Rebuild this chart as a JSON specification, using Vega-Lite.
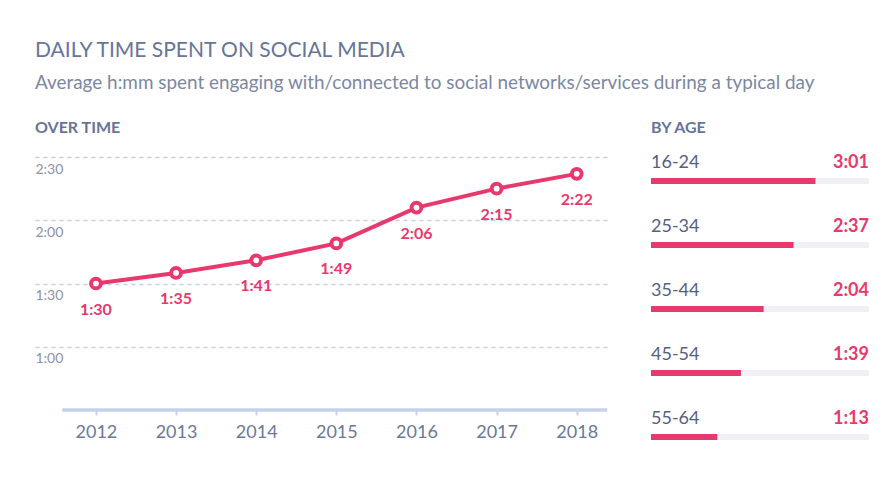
{
 "$schema": "https://vega.github.io/schema/vega-lite/v6.json",
 "padding": {"left": 35, "top": 40, "right": 20, "bottom": 0},
 "background": "white",
 "config": {"font": "Lato", "view": {"stroke": null}, "concat": {"spacing": 42}},
 "title": {"text": "DAILY TIME SPENT ON SOCIAL MEDIA", "subtitle": "Average h:mm spent engaging with/connected to social networks/services during a typical day", "anchor": "start", "fontSize": 21, "fontWeight": "normal", "color": "#667599", "subtitleFontSize": 18.9, "subtitleColor": "#7b87a3", "subtitlePadding": 13, "offset": 27},
 "datasets": {
  "overTime": [
   {"year": 2012, "minutes": 90, "label": "1:30"},
   {"year": 2013, "minutes": 95, "label": "1:35"},
   {"year": 2014, "minutes": 101, "label": "1:41"},
   {"year": 2015, "minutes": 109, "label": "1:49"},
   {"year": 2016, "minutes": 126, "label": "2:06"},
   {"year": 2017, "minutes": 135, "label": "2:15"},
   {"year": 2018, "minutes": 142, "label": "2:22"}
  ],
  "axisLine": [{"from": 2011.58, "to": 2018.38, "minutes": 30}],
  "byAge": [
   {"age": "16-24", "minutes": 181, "label": "3:01"},
   {"age": "25-34", "minutes": 157, "label": "2:37"},
   {"age": "35-44", "minutes": 124, "label": "2:04"},
   {"age": "45-54", "minutes": 99, "label": "1:39"},
   {"age": "55-64", "minutes": 73, "label": "1:13"}
  ]
 },
 "hconcat": [
  {
   "width": 573,
   "height": 253,
   "title": {"text": "OVER TIME", "anchor": "start", "fontSize": 16, "fontWeight": "bold", "color": "#66749a", "offset": 21},
   "layer": [
    {
     "data": {"name": "overTime"},
     "mark": {"type": "line", "color": "#e8386e", "strokeWidth": 4},
     "encoding": {
      "x": {"field": "year", "type": "quantitative", "scale": {"domain": [2011.24, 2018.39], "nice": false, "zero": false},
            "axis": {"values": [2012, 2013, 2014, 2015, 2016, 2017, 2018], "format": "d", "grid": false, "domain": false, "ticks": true, "tickSize": 5, "tickColor": "#c9d1ea", "tickWidth": 2, "labelFontSize": 18, "labelColor": "#6c7896", "labelPadding": 8, "title": null}},
      "y": {"field": "minutes", "type": "quantitative", "scale": {"domain": [30, 150], "nice": false, "zero": false},
            "axis": {"values": [60, 90, 120, 150], "grid": true, "gridDash": [4, 4], "gridColor": "#c6cee8", "gridWidth": 1.5, "domain": false, "ticks": false, "tickSize": 0, "labelAlign": "left", "labelBaseline": "top", "labelPadding": 0, "labelOffset": 5, "labelFontSize": 14, "labelColor": "#8a92a8", "labelExpr": "floor(datum.value/60) + ':' + (datum.value % 60 < 10 ? '0' : '') + (datum.value % 60)", "title": null}}
     }
    },
    {
     "data": {"name": "axisLine"},
     "mark": {"type": "rule", "color": "#c9d1ea", "strokeWidth": 3.5},
     "encoding": {
      "x": {"field": "from", "type": "quantitative"},
      "x2": {"field": "to"},
      "y": {"field": "minutes", "type": "quantitative"}
     }
    },
    {
     "data": {"name": "overTime"},
     "mark": {"type": "point", "filled": true, "fill": "white", "stroke": "#e8386e", "strokeWidth": 4, "size": 95, "opacity": 1},
     "encoding": {
      "x": {"field": "year", "type": "quantitative"},
      "y": {"field": "minutes", "type": "quantitative"}
     }
    },
    {
     "data": {"name": "overTime"},
     "mark": {"type": "text", "dy": 26, "fontSize": 16, "fontWeight": "bold", "color": "#e8386e"},
     "encoding": {
      "x": {"field": "year", "type": "quantitative"},
      "y": {"field": "minutes", "type": "quantitative"},
      "text": {"field": "label"}
     }
    }
   ]
  },
  {
   "width": 218,
   "height": 320,
   "title": {"text": "BY AGE", "anchor": "start", "fontSize": 16, "fontWeight": "bold", "color": "#66749a", "offset": 18},
   "data": {"name": "byAge"},
   "encoding": {
    "y": {"field": "age", "type": "nominal", "sort": null, "axis": null, "scale": {"paddingInner": 0, "paddingOuter": 0}}
   },
   "layer": [
    {
     "mark": {"type": "bar", "height": 6, "color": "#f0f1f6", "yOffset": -8},
     "encoding": {"x": {"datum": 240, "type": "quantitative", "scale": {"domain": [0, 240], "nice": false}, "axis": null}}
    },
    {
     "mark": {"type": "bar", "height": 6, "color": "#e8386e", "yOffset": -8},
     "encoding": {"x": {"field": "minutes", "type": "quantitative", "axis": null}}
    },
    {
     "mark": {"type": "text", "align": "left", "baseline": "middle", "fontSize": 18, "color": "#56617e", "yOffset": -26},
     "encoding": {"x": {"datum": 0, "type": "quantitative", "axis": null}, "text": {"field": "age"}}
    },
    {
     "mark": {"type": "text", "align": "right", "baseline": "middle", "fontSize": 18, "fontWeight": "bold", "color": "#e8386e", "yOffset": -26},
     "encoding": {"x": {"datum": 240, "type": "quantitative", "axis": null}, "text": {"field": "label"}}
    }
   ]
  }
 ]
}
